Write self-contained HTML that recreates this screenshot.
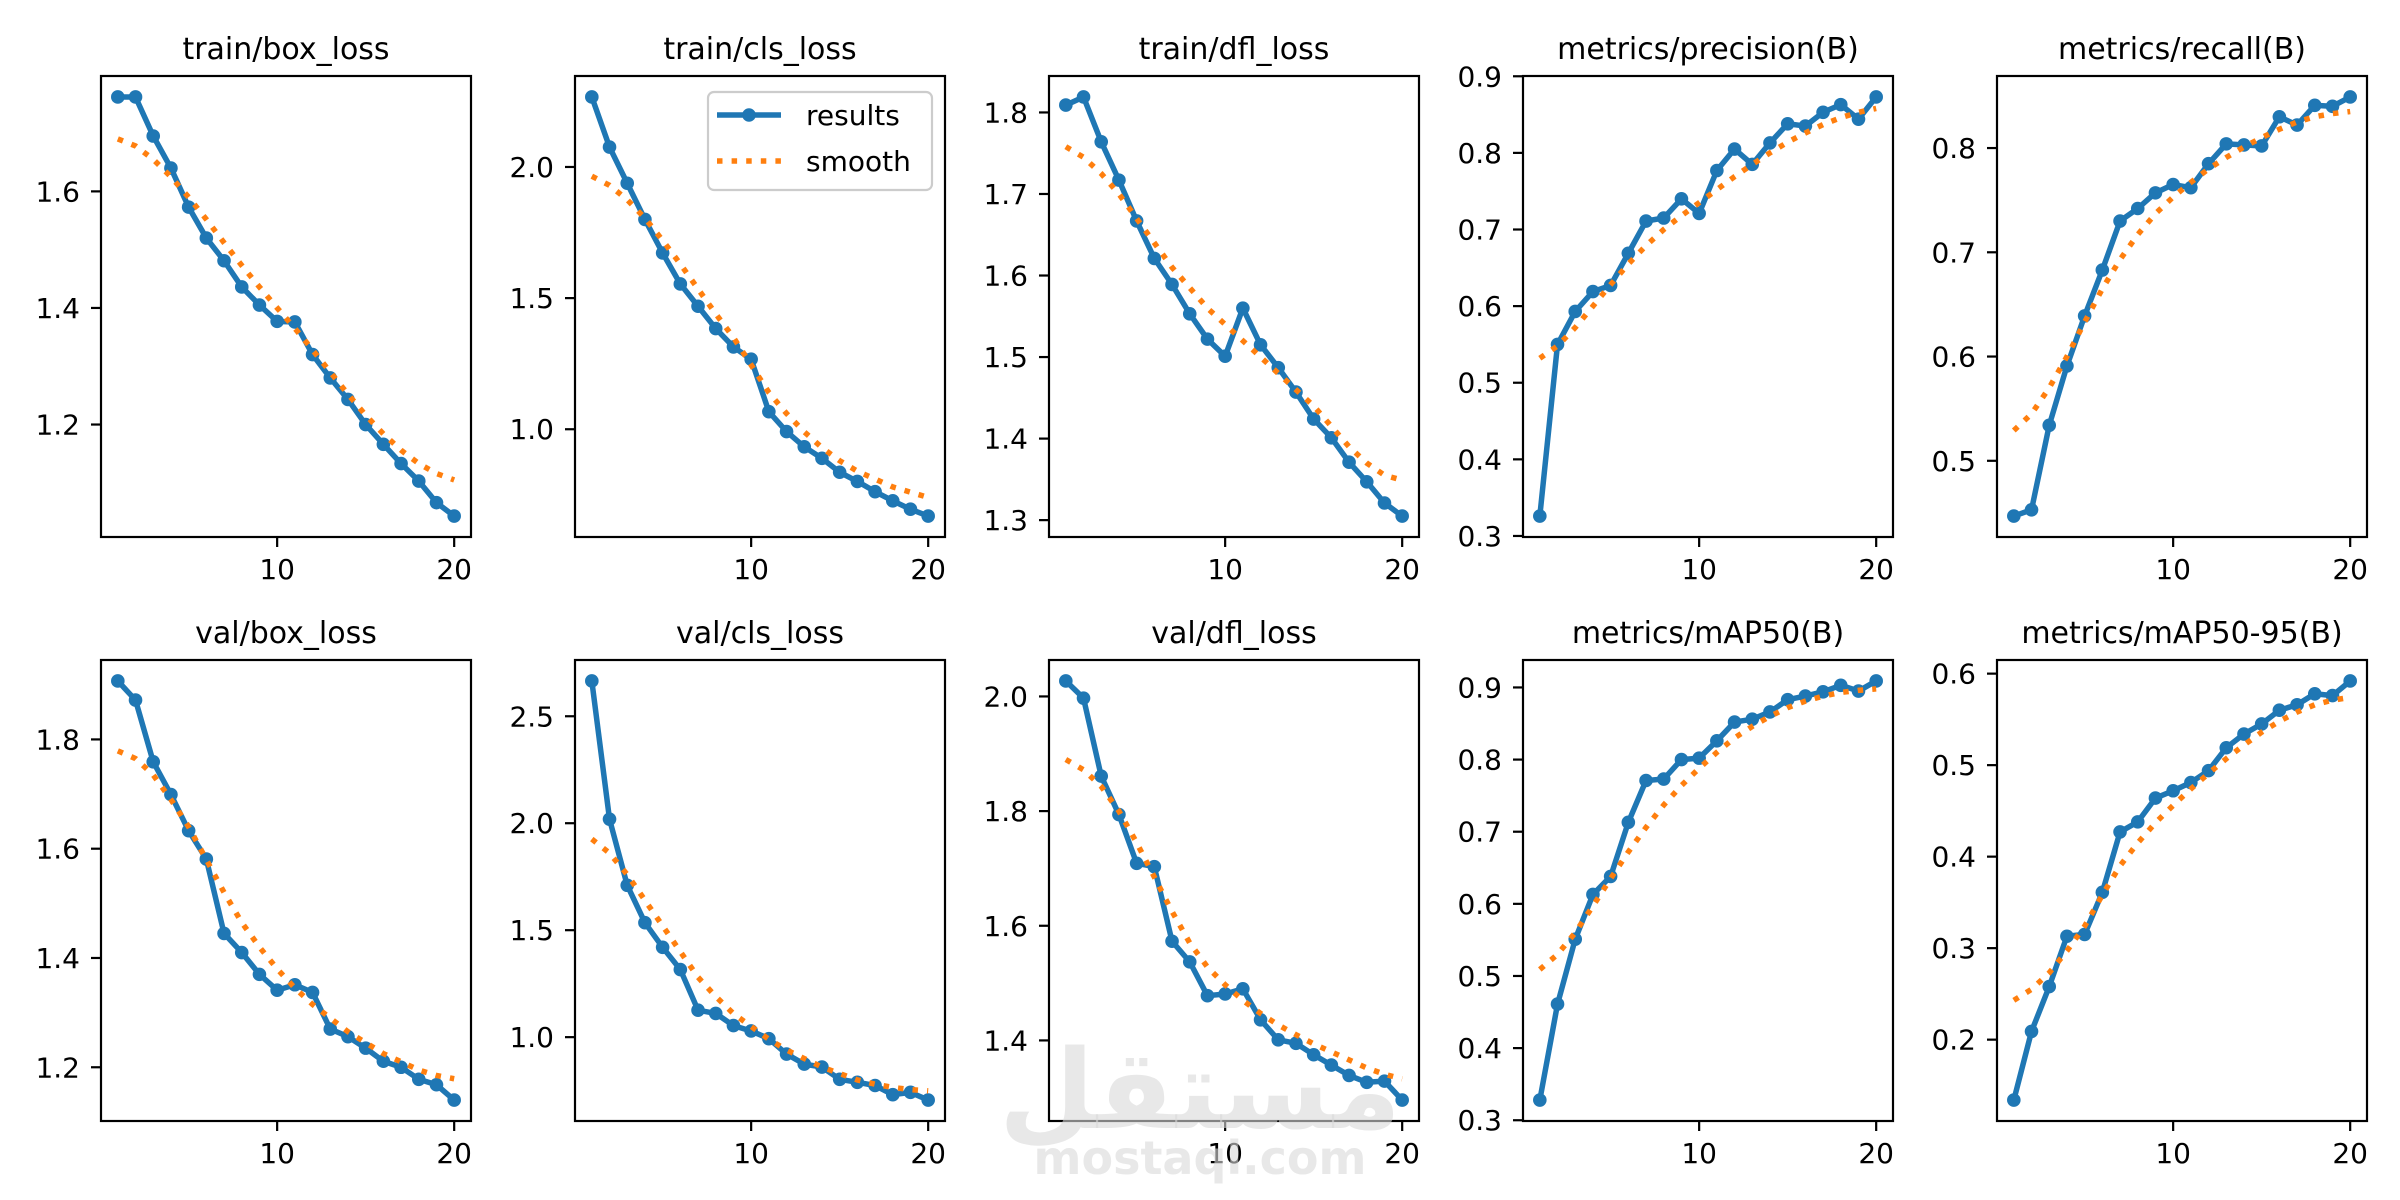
<!DOCTYPE html>
<html><head><meta charset="utf-8"><title>results</title>
<style>
html,body{margin:0;padding:0;background:#fff;}
svg{display:block;font-family:"DejaVu Sans","Liberation Sans",sans-serif;}
</style></head>
<body>
<svg id="fig" xmlns="http://www.w3.org/2000/svg" width="2400" height="1200" viewBox="0 0 2400 1200">
<rect x="0" y="0" width="2400" height="1200" fill="#fff"/>
</svg>
<script>
const epochs = [1,2,3,4,5,6,7,8,9,10,11,12,13,14,15,16,17,18,19,20];
const xTicks = [10,20];

const trainBoxResults = [1.762,1.762,1.695,1.640,1.573,1.520,1.481,1.436,1.405,1.377,1.376,1.320,1.280,1.243,1.200,1.166,1.133,1.103,1.066,1.043];
const trainBoxSmooth  = [1.690,1.678,1.655,1.625,1.590,1.552,1.512,1.473,1.436,1.400,1.365,1.328,1.290,1.252,1.216,1.184,1.156,1.133,1.116,1.105];
const trainBoxTicks = [1.2,1.4,1.6];

const trainClsResults = [2.267,2.076,1.938,1.800,1.672,1.554,1.469,1.384,1.314,1.267,1.067,0.991,0.933,0.889,0.836,0.801,0.762,0.727,0.695,0.669];
const trainClsSmooth  = [1.965,1.930,1.875,1.805,1.720,1.630,1.535,1.440,1.350,1.245,1.140,1.060,0.990,0.930,0.880,0.840,0.810,0.780,0.760,0.740];
const trainClsTicks = [1.0,1.5,2.0];

const trainDflResults = [1.809,1.819,1.764,1.717,1.667,1.621,1.589,1.553,1.522,1.501,1.560,1.515,1.487,1.457,1.424,1.401,1.371,1.347,1.321,1.305];
const trainDflSmooth  = [1.758,1.745,1.725,1.700,1.670,1.640,1.610,1.585,1.560,1.540,1.520,1.500,1.480,1.460,1.440,1.415,1.390,1.370,1.355,1.349];
const trainDflTicks = [1.3,1.4,1.5,1.6,1.7,1.8];

const precisionResults = [0.326,0.550,0.593,0.619,0.627,0.669,0.711,0.715,0.740,0.721,0.777,0.805,0.785,0.813,0.838,0.835,0.853,0.863,0.844,0.873];
const precisionSmooth  = [0.532,0.548,0.572,0.600,0.628,0.655,0.679,0.700,0.718,0.735,0.752,0.769,0.785,0.800,0.814,0.826,0.837,0.846,0.853,0.858];
const precisionTicks = [0.3,0.4,0.5,0.6,0.7,0.8,0.9];

const recallResults = [0.447,0.453,0.534,0.591,0.639,0.683,0.730,0.742,0.757,0.765,0.762,0.785,0.804,0.803,0.802,0.830,0.822,0.841,0.840,0.849];
const recallSmooth  = [0.529,0.545,0.570,0.600,0.633,0.665,0.693,0.717,0.737,0.753,0.767,0.780,0.791,0.801,0.810,0.818,0.825,0.830,0.833,0.835];
const recallTicks = [0.5,0.6,0.7,0.8];

const valBoxResults = [1.907,1.872,1.759,1.699,1.633,1.581,1.445,1.410,1.370,1.341,1.351,1.337,1.270,1.256,1.235,1.211,1.200,1.178,1.168,1.140];
const valBoxSmooth  = [1.779,1.765,1.735,1.690,1.640,1.580,1.520,1.465,1.420,1.380,1.345,1.315,1.290,1.265,1.245,1.225,1.210,1.195,1.185,1.179];
const valBoxTicks = [1.2,1.4,1.6,1.8];

const valClsResults = [2.665,2.019,1.710,1.535,1.420,1.316,1.126,1.111,1.054,1.029,0.993,0.921,0.874,0.860,0.803,0.789,0.774,0.731,0.742,0.706];
const valClsSmooth  = [1.926,1.860,1.760,1.640,1.520,1.400,1.280,1.190,1.110,1.050,0.990,0.940,0.900,0.860,0.830,0.800,0.780,0.765,0.755,0.749];
const valClsTicks = [1.0,1.5,2.0,2.5];

const valDflResults = [2.027,1.997,1.861,1.794,1.709,1.703,1.573,1.537,1.478,1.481,1.490,1.436,1.401,1.395,1.375,1.357,1.339,1.327,1.329,1.296];
const valDflSmooth  = [1.890,1.872,1.843,1.800,1.745,1.685,1.625,1.570,1.528,1.497,1.470,1.447,1.427,1.410,1.394,1.380,1.366,1.352,1.341,1.333];
const valDflTicks = [1.4,1.6,1.8,2.0];

const map50Results = [0.328,0.461,0.551,0.613,0.638,0.713,0.771,0.773,0.800,0.802,0.826,0.852,0.856,0.866,0.883,0.888,0.894,0.903,0.895,0.909];
const map50Smooth  = [0.509,0.530,0.560,0.597,0.635,0.672,0.706,0.737,0.764,0.788,0.810,0.830,0.846,0.860,0.872,0.881,0.888,0.893,0.896,0.898];
const map50Ticks = [0.3,0.4,0.5,0.6,0.7,0.8,0.9];

const map5095Results = [0.134,0.209,0.258,0.313,0.315,0.361,0.427,0.438,0.464,0.472,0.481,0.494,0.519,0.534,0.545,0.560,0.566,0.578,0.576,0.592];
const map5095Smooth  = [0.243,0.255,0.273,0.297,0.324,0.358,0.390,0.415,0.437,0.456,0.474,0.491,0.507,0.522,0.536,0.548,0.558,0.566,0.571,0.574];
const map5095Ticks = [0.2,0.3,0.4,0.5,0.6];

const panelTitles = ["train/box_loss","train/cls_loss","train/dfl_loss","metrics/precision(B)","metrics/recall(B)","val/box_loss","val/cls_loss","val/dfl_loss","metrics/mAP50(B)","metrics/mAP50-95(B)"];
const panelResults = [trainBoxResults,trainClsResults,trainDflResults,precisionResults,recallResults,valBoxResults,valClsResults,valDflResults,map50Results,map5095Results];
const panelSmooth = [trainBoxSmooth,trainClsSmooth,trainDflSmooth,precisionSmooth,recallSmooth,valBoxSmooth,valClsSmooth,valDflSmooth,map50Smooth,map5095Smooth];
const panelTicks = [trainBoxTicks,trainClsTicks,trainDflTicks,precisionTicks,recallTicks,valBoxTicks,valClsTicks,valDflTicks,map50Ticks,map5095Ticks];

const NS = "http://www.w3.org/2000/svg";
const svg = document.getElementById("fig");
function mk(tag, attrs, parent){
  const e = document.createElementNS(NS, tag);
  for (const k in attrs) e.setAttribute(k, attrs[k]);
  (parent||svg).appendChild(e);
  return e;
}
const slugs = ["train-box-loss","train-cls-loss","train-dfl-loss","precision","recall","val-box-loss","val-cls-loss","val-dfl-loss","map50","map50-95"];
const PW = 370, PH = 461;
for (let i = 0; i < 10; i++) {
  const col = i % 5, row = Math.floor(i / 5);
  const L = 101 + col * 474, T = row === 0 ? 76 : 660;
  const g = mk("g", {});
  
  
  const res = panelResults[i], sm = panelSmooth[i];
  const all = res.concat(sm);
  const dmin = Math.min(...all), dmax = Math.max(...all);
  const pad = (dmax - dmin) * 0.05;
  const y0 = dmin - pad, y1 = dmax + pad;
  const xmin = 0.05, xmax = 20.95;
  const sx = v => L + (v - xmin) / (xmax - xmin) * PW;
  const sy = v => T + PH - (v - y0) / (y1 - y0) * PH;

  const title = mk("text", {x: L + PW/2, y: T - 17, "text-anchor": "middle", "font-size": 30, fill: "#000"}, g);
  title.textContent = panelTitles[i];
  
  

  xTicks.forEach(t => {
    const x = sx(t);
    mk("line", {x1: x, x2: x, y1: T + PH, y2: T + PH + 10, stroke: "#000", "stroke-width": 2.2}, g);
    const tx = mk("text", {x: x, y: T + PH + 42, "text-anchor": "middle", "font-size": 28, fill: "#000"}, g);
    tx.textContent = String(t);
    
    
  });
  panelTicks[i].forEach(t => {
    if (t < y0 || t > y1) return;
    const y = sy(t);
    mk("line", {x1: L - 10, x2: L, y1: y, y2: y, stroke: "#000", "stroke-width": 2.2}, g);
    const ty = mk("text", {x: L - 21, y: y + 10, "text-anchor": "end", "font-size": 28, fill: "#000"}, g);
    ty.textContent = t.toFixed(1);
    
    
  });

  const clipId = "clip" + i;
  const cp = mk("clipPath", {id: clipId}, g);
  mk("rect", {x: L, y: T, width: PW, height: PH}, cp);

  const resPts = epochs.map((e, k) => sx(e).toFixed(2) + "," + sy(res[k]).toFixed(2)).join(" ");
  const smPts = epochs.map((e, k) => sx(e).toFixed(2) + "," + sy(sm[k]).toFixed(2)).join(" ");
  const line = mk("polyline", {points: resPts, fill: "none", stroke: "#1f77b4", "stroke-width": 5.5, "stroke-linejoin": "round", "stroke-linecap": "butt", "clip-path": "url(#" + clipId + ")"}, g);
  
  
  epochs.forEach((e, k) => {
    const c = mk("circle", {cx: sx(e), cy: sy(res[k]), r: 6.8, fill: "#1f77b4"}, g);
    
    
  });
  const sl = mk("polyline", {points: smPts, fill: "none", stroke: "#ff7f0e", "stroke-width": 5.5, "stroke-dasharray": "5.5 9.1", "clip-path": "url(#" + clipId + ")"}, g);
  
  

  const frame = mk("rect", {x: L, y: T, width: PW, height: PH, fill: "none", stroke: "#000", "stroke-width": 2.2}, g);
  
  

  if (i === 1) {
    const lg = mk("g", {}, g);
    
    
    mk("rect", {x: 708, y: 92, width: 224, height: 98, rx: 6, fill: "#fff", "fill-opacity": 0.8, stroke: "#cccccc", "stroke-width": 2.2}, lg);
    mk("line", {x1: 717, x2: 781, y1: 115, y2: 115, stroke: "#1f77b4", "stroke-width": 5.5}, lg);
    mk("circle", {cx: 749, cy: 115, r: 6.8, fill: "#1f77b4"}, lg);
    const t1 = mk("text", {x: 806, y: 125, "font-size": 28, fill: "#000"}, lg);
    t1.textContent = "results";
    
    
    mk("line", {x1: 717, x2: 781, y1: 161, y2: 161, stroke: "#ff7f0e", "stroke-width": 5.5, "stroke-dasharray": "5.5 9.1"}, lg);
    const t2 = mk("text", {x: 806, y: 171, "font-size": 28, fill: "#000"}, lg);
    t2.textContent = "smooth";
    
    
  }
}
const wm1 = mk("text", {x: 1200, y: 1128, "text-anchor": "middle", "font-size": 110, "font-weight": "bold", fill: "#d8d8d8", "fill-opacity": 0.6, "font-family": "DejaVu Sans, sans-serif"});
wm1.textContent = "مستقل";


const wm2 = mk("text", {x: 1200, y: 1174, "text-anchor": "middle", "font-size": 46, "font-weight": "bold", fill: "#d8d8d8", "fill-opacity": 0.6});
wm2.textContent = "mostaql.com";


</script>
</body></html>
